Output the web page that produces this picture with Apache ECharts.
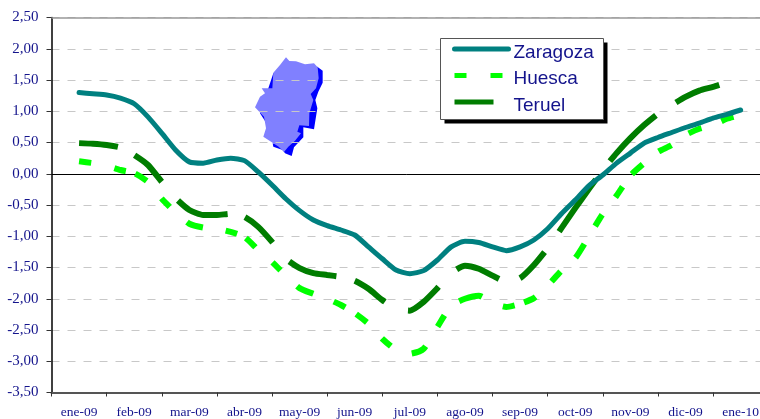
<!DOCTYPE html>
<html><head><meta charset="utf-8">
<style>html,body{margin:0;padding:0;background:#fff}#c{width:760px;height:419px}</style>
<script src="https://cdn.jsdelivr.net/npm/echarts@6/dist/echarts.min.js"></script>
</head><body><div id="c"></div>
<script>
const months = ['ene-09','feb-09','mar-09','abr-09','may-09','jun-09','jul-09','ago-09','sep-09','oct-09','nov-09','dic-09','ene-10'];
const yTicks = [-3.5, 2.5, 0.5];
const zaragoza = [1.30,1.28,1.26,1.21,1.12,.91,.65,.38,.19,.17,.22,.25,.21,.03,-.18,-.40,-.59,-.74,-.83,-.90,-.98,-1.17,-1.36,-1.54,-1.60,-1.55,-1.38,-1.17,-1.08,-1.10,-1.17,-1.23,-1.17,-1.06,-.88,-.64,-.42,-.19,-.02,.17,.33,.49,.58,.66,.74,.81,.89,.95,1.02];
const huesca = [.20,.17,.13,.06,.01,-.13,-.40,-.62,-.80,-.86,-.88,-.93,-1.01,-1.22,-1.41,-1.63,-1.83,-1.92,-2.00,-2.10,-2.23,-2.40,-2.64,-2.82,-2.88,-2.80,-2.45,-2.11,-2.00,-1.95,-2.07,-2.13,-2.08,-1.99,-1.79,-1.55,-1.35,-1.00,-.64,-.35,-.03,.17,.35,.46,.62,.72,.78,.88,.94];
const teruel = [.49,.48,.46,.42,.30,.14,-.13,-.39,-.58,-.66,-.66,-.64,-.69,-.85,-1.09,-1.36,-1.51,-1.59,-1.62,-1.65,-1.71,-1.84,-2.02,-2.16,-2.19,-2.05,-1.83,-1.59,-1.47,-1.52,-1.63,-1.73,-1.67,-1.46,-1.19,-.87,-.55,-.24,.06,.33,.57,.78,.96,1.10,1.23,1.33,1.39,1.46,1.52];
const samplesPerMonth = 4;

const navy = '#14148c';
const huescaDash = [12,24,12,10,13,23,12,23,17,23,12,10,13,23,11,23,18,22,13,13,13,22,12,23,16,23,13,21,24,23,12,10,13,22,13,21,16,21,13,22,13,16,14,21,14,21,14,21,13,60];
const teruelDash = [39,19,38,25,54,18,38,25,50,19,37,25,40,25,46,22,36,25,64,23,65,24,47,60];
const toPts = a => a.map((v,i)=>[i/samplesPerMonth, v]);
const mapDark = [[232,50],[248,62],[248,98],[235,125],[226,150],[232,175],[222,238],[190,232],[190,262],[162,292],[155,318],[135,310],[128,300],[100,290],[98,280],[118,285],[112,270],[60,190],[100,70]];
const mapLight = [[138,22],[148,33],[168,34],[195,43],[222,40],[233,52],[236,85],[228,115],[212,132],[220,150],[208,190],[207,228],[178,226],[172,245],[183,250],[165,272],[145,290],[132,306],[116,290],[100,280],[70,260],[78,235],[72,200],[45,172],[60,140],[75,130],[65,115],[97,115],[100,68],[120,45]];
const scaleMap = s => s.map(p=>[p[0]/3,p[1]/3]);

const chart = echarts.init(document.getElementById('c'), null, {renderer:'canvas'});
chart.setOption({
  animation:false,
  backgroundColor:'#fff',
  grid:{left:51.5, top:17.5, width:716.7, height:375, containLabel:false, outerBoundsMode:'none'},
  legend:{
    left:452, top:41, orient:'vertical', padding:0, itemGap:5.5,
    itemWidth:54, itemHeight:20, z:5,
    itemStyle:{opacity:0},
    lineStyle:{width:5},
    formatter:'{t|{name}}',
    textStyle:{color:navy, fontFamily:'Liberation Sans', fontSize:19,
      rich:{t:{color:navy, fontFamily:'Liberation Sans', fontSize:19, padding:[7,0,0,0]}}},
    selectedMode:false,
    data:['Zaragoza','Huesca','Teruel']
  },
  xAxis:[
    {type:'category', data:months, position:'bottom', boundaryGap:true,
     axisLine:{onZero:false, lineStyle:{color:'#555', width:2}},
     axisTick:{show:true, length:4, alignWithLabel:false, lineStyle:{color:'#333'}},
     axisLabel:{interval:0, color:navy, fontFamily:'Liberation Serif', fontSize:13.5, margin:13, hideOverlap:false},
     splitLine:{show:false}},
    {type:'value', show:false, min:-0.5, max:12.5, position:'top'}
  ],
  yAxis:{type:'value', min:yTicks[0], max:yTicks[1], interval:yTicks[2],
    axisLine:{show:true, onZero:false, lineStyle:{color:'#000', width:1.5}},
    axisTick:{show:true, length:5, lineStyle:{color:'#333'}},
    axisLabel:{color:navy, fontFamily:'Liberation Serif', fontSize:15, margin:13,
      formatter:v=>v.toFixed(2).replace('.',',')},
    splitLine:{show:true, lineStyle:{color:'#c8c8c8', type:[8,8], width:1}}
  },
  series:[
    {name:'Zaragoza', type:'line', xAxisIndex:1, data:toPts(zaragoza), showSymbol:false, symbol:'none', smooth:0.2, z:4,
     lineStyle:{color:'#008080', width:5, cap:'round'}, itemStyle:{color:'#008080'},
     markLine:{silent:true, symbol:'none', label:{show:false}, animation:false, z:1,
       data:[{yAxis:0, lineStyle:{color:'#000', width:1, type:'solid'}},
             {yAxis:2.5, lineStyle:{color:'#999', width:1.5, type:'solid'}}]}},
    {name:'Huesca', type:'line', xAxisIndex:1, data:toPts(huesca), showSymbol:false, symbol:'none', smooth:0.2, z:3,
     lineStyle:{color:'#00ff00', width:6, type:huescaDash, cap:'butt'}, itemStyle:{color:'#00ff00'}},
    {name:'Teruel', type:'line', xAxisIndex:1, data:toPts(teruel), showSymbol:false, symbol:'none', smooth:0.2, z:3,
     lineStyle:{color:'#007d00', width:6, type:teruelDash, cap:'butt'}, itemStyle:{color:'#007d00'}}
  ],
  graphic:[
    {type:'rect', z:3, shape:{x:444.5,y:42.5,width:163,height:81}, style:{fill:'#000'}},
    {type:'rect', z:3, shape:{x:440.5,y:38.5,width:163,height:81}, style:{fill:'#fff', stroke:'#555', lineWidth:1}},
    {type:'group', x:240, y:50, z:2, children:[
      {type:'polygon', shape:{points:scaleMap(mapDark)}, style:{fill:'#0000ff'}},
      {type:'polygon', shape:{points:scaleMap(mapLight)}, style:{fill:'#8080ff'}}
    ]}
  ]
});
</script></body></html>
